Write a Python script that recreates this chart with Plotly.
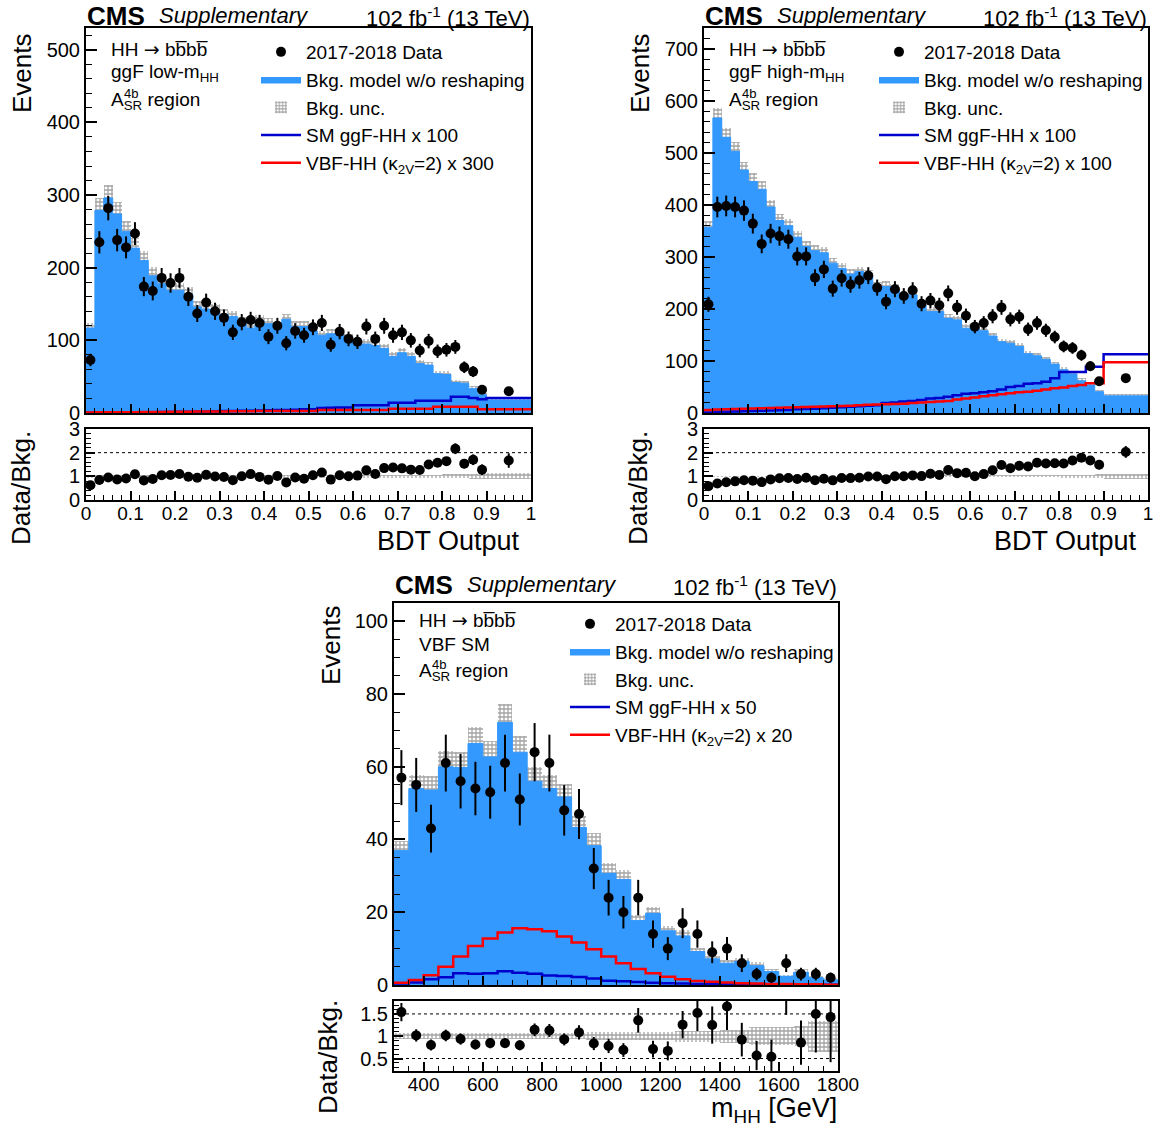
import math
import plotly.graph_objects as go

W, H = 1158, 1131
FONT = "Liberation Sans, Arial, Helvetica, sans-serif"

# ------------------------------------------------------------------ data
BDT_EDGES = [round(0.02 * i, 2) for i in range(46)] + [1.0]
MHH_EDGES = [300 + 50 * i for i in range(31)]

# ggF low-mHH (top left)
LOW_DATA = [73, 235, 282, 238, 228, 247, 174, 168, 186, 179,
            186, 160, 137, 152, 140, 131, 111, 125, 128, 124,
            105, 120, 96, 113, 107, 118, 124, 94, 112, 102,
            98, 119, 102, 120, 107, 111, 100, 86, 99, 85,
            87, 91, 63, 57, 32, 30]
LOW_BKG = [117, 279, 296, 274, 250, 227, 210, 189, 178, 169,
           169, 163, 146, 143, 141, 135, 133, 125, 117, 127,
           123, 118, 129, 119, 119, 113, 107, 109, 107, 102,
           95, 95, 93, 89, 78, 83, 78, 68, 66, 54,
           53, 42, 41, 33.5, 25, 18]
LOW_UNC = [0.06] * 30 + [0.07] * 10 + [0.09, 0.09, 0.09, 0.10, 0.11, 0.13]
LOW_GGF = [0.5, 0.6, 0.7, 0.8, 0.9, 1.0, 1.1, 1.2, 1.3, 1.5,
           1.6, 1.8, 2.0, 2.2, 2.4, 2.6, 2.8, 3.0, 3.2, 3.5,
           3.8, 4.0, 4.3, 4.6, 5.0, 5.2, 7.0, 7.3, 7.5, 7.5,
           10.6, 10.6, 10.6, 10.6, 14, 14, 14, 17, 17, 17,
           17, 22.5, 22.5, 20.6, 18.9, 20.6]
LOW_VBF = [0.8, 0.9, 1.0, 1.0, 1.1, 1.2, 1.3, 1.4, 1.5, 1.6,
           1.7, 1.8, 1.9, 2.0, 2.1, 2.2, 2.3, 2.4, 2.5, 2.6,
           2.7, 2.8, 2.8, 2.9, 2.8, 2.8, 4, 4, 4, 4,
           4, 4, 4, 4, 6, 6, 6, 6, 6, 8.7,
           8.7, 8.7, 8.7, 8.7, 5, 5]

# ggF high-mHH (top right)
HIGH_DATA = [209, 396, 398, 396, 389, 364, 325, 345, 340, 334,
             301, 301, 260, 276, 239, 259, 247, 255, 264, 241,
             214, 238, 225, 236, 210, 216, 207, 230, 203, 187,
             166, 173, 186, 203, 180, 185, 161, 173, 159, 146,
             128, 125, 111, 90, 61, 67]
HIGH_BKG = [357, 567, 530, 503, 467, 445, 430, 396, 370, 360,
            338, 320, 312, 308, 288, 278, 267, 272, 265, 243,
            243, 238, 224, 227, 208, 195, 195, 182, 179, 163,
            165, 158, 148, 137, 134, 128, 114, 110, 103, 94,
            83, 75, 62, 54, 41, 33]
HIGH_UNC = [0.035] * 20 + [0.045] * 20 + [0.06, 0.06, 0.07, 0.07, 0.08, 0.10]
HIGH_GGF = [1, 2, 2.5, 3, 3.5, 4, 4.5, 5, 5.5, 6,
            7, 7.5, 8, 9, 10, 11, 12, 13, 14, 15,
            19, 20, 22, 23, 25, 28, 29, 31, 34, 37,
            38, 40, 42, 45, 50, 52, 56, 57, 60, 67,
            79, 79, 79, 89, 89, 113]
HIGH_VBF = [6, 6.5, 7, 7.5, 8, 8.5, 9, 9.5, 10, 10.5,
            11, 11.5, 12, 12.5, 13, 13.5, 14, 15, 16, 16.5,
            17, 17.5, 18, 19, 20, 21, 22, 23, 26, 28,
            30, 32, 34, 36, 38, 40, 41, 43, 45, 47.5,
            49, 52, 54, 57, 57, 97.5]

# VBF SM (bottom)
VBF_DATA = [57, 55, 43, 61, 56, 54, 53, 61, 51, 64,
            61, 48, 47, 32, 24, 20, 24, 14, 10, 17,
            14, 9, 10, 6, 3, 2, 6, 3, 3, 2]
VBF_BKG = [37, 54, 53.6, 60, 59.8, 66.4, 62.7, 72.2, 64, 56,
           54, 51.7, 43.3, 38.3, 30.7, 29, 17.7, 19.7, 14.9, 13.5,
           9.2, 7.2, 6, 6.5, 5.3, 3.7, 2.4, 3.5, 2, 1.4]
VBF_UNC = [0.07] * 13 + [0.09] * 6 + [0.12] * 3 + [0.15, 0.15, 0.2, 0.2, 0.2, 0.22, 0.35, 0.35]
VBF_GGF = [0.4, 0.7, 1.6, 2.1, 3.2, 3.1, 3.2, 3.8, 3.4, 3.1,
           2.6, 2.5, 2.2, 1.8, 1.2, 1.0, 0.8, 0.6, 0.5, 0.4,
           0.3, 0.3, 0.2, 0.2, 0.1, 0.1, 0.1, 0.1, 0.1, 0.1]
VBF_VBF = [0.6, 1.4, 2.7, 5.0, 7.8, 10.7, 12.8, 14.4, 15.6, 15.3,
           14.8, 13.3, 11.7, 9.8, 7.8, 6.0, 4.4, 3.2, 2.3, 1.6,
           1.1, 0.9, 0.7, 0.5, 0.4, 0.3, 0.3, 0.2, 0.2, 0.1]

# ------------------------------------------------------------------ helpers
BLUE_FILL = "#3399ff"
SIG_BLUE = "#0000cc"
SIG_RED = "#ff0000"
HATCH = dict(shape="+", fgcolor="#4a4a4a", bgcolor="rgba(0,0,0,0)",
             size=4, solidity=0.55, fillmode="overlay")


def px(x):
    return x / W


def py(y):
    return 1 - y / H


def centers(e):
    return [(a + b) / 2 for a, b in zip(e[:-1], e[1:])]


def widths(e):
    return [b - a for a, b in zip(e[:-1], e[1:])]


def step(v):
    return list(v) + [v[-1]]


fig = go.Figure()


def add_panel(edges, data, bkg, unc, ggf, vbf, n, legend, ggf_label, vbf_label):
    xm, ym = f"x{n}", f"y{n}"
    xr, yr = f"x{n+1}", f"y{n+1}"
    c = centers(edges)
    w = widths(edges)
    fig.add_trace(go.Scatter(
        x=edges, y=step(bkg), mode="lines", line_shape="hv",
        line=dict(color=BLUE_FILL, width=1), fill="tozeroy", fillcolor=BLUE_FILL,
        name="Bkg. model w/o reshaping", legend=legend, legendrank=2,
        xaxis=xm, yaxis=ym))
    fig.add_trace(go.Bar(
        x=c, y=[2 * b * r for b, r in zip(bkg, unc)],
        base=[b * (1 - r) for b, r in zip(bkg, unc)], width=w,
        marker=dict(color="rgba(0,0,0,0)", line=dict(width=0), pattern=HATCH),
        name="Bkg. unc.", legend=legend, legendrank=3, xaxis=xm, yaxis=ym))
    fig.add_trace(go.Scatter(
        x=edges, y=step(ggf), mode="lines", line_shape="hv",
        line=dict(color=SIG_BLUE, width=2.5), name=ggf_label,
        legend=legend, legendrank=4, xaxis=xm, yaxis=ym))
    fig.add_trace(go.Scatter(
        x=edges, y=step(vbf), mode="lines", line_shape="hv",
        line=dict(color=SIG_RED, width=2.5), name=vbf_label,
        legend=legend, legendrank=5, xaxis=xm, yaxis=ym))
    fig.add_trace(go.Scatter(
        x=c, y=data, mode="markers",
        marker=dict(color="black", size=10),
        error_y=dict(type="data", array=[math.sqrt(d) for d in data],
                     color="black", thickness=2, width=0),
        name="2017-2018 Data", legend=legend, legendrank=1, xaxis=xm, yaxis=ym))
    # ratio
    fig.add_trace(go.Bar(
        x=c, y=[2 * r for r in unc], base=[1 - r for r in unc], width=w,
        marker=dict(color="rgba(0,0,0,0)", line=dict(width=0), pattern=HATCH),
        showlegend=False, xaxis=xr, yaxis=yr))
    fig.add_trace(go.Scatter(
        x=c, y=[d / b for d, b in zip(data, bkg)], mode="markers",
        marker=dict(color="black", size=10),
        error_y=dict(type="data", array=[math.sqrt(d) / b for d, b in zip(data, bkg)],
                     color="black", thickness=2, width=0),
        showlegend=False, xaxis=xr, yaxis=yr))


add_panel(BDT_EDGES, LOW_DATA, LOW_BKG, LOW_UNC, LOW_GGF, LOW_VBF, 1, "legend",
          "SM ggF-HH x 100", "VBF-HH (κ<sub>2V</sub>=2) x 300")
add_panel(BDT_EDGES, HIGH_DATA, HIGH_BKG, HIGH_UNC, HIGH_GGF, HIGH_VBF, 3, "legend2",
          "SM ggF-HH x 100", "VBF-HH (κ<sub>2V</sub>=2) x 100")
add_panel(MHH_EDGES, VBF_DATA, VBF_BKG, VBF_UNC, VBF_GGF, VBF_VBF, 5, "legend3",
          "SM ggF-HH x 50", "VBF-HH (κ<sub>2V</sub>=2) x 20")

# ------------------------------------------------------------------ axes
TICKFONT = dict(family=FONT, size=20, color="black")


def xaxis(dom, rng, dtick, minor, anchor, labels, tick0=0):
    return dict(domain=[px(dom[0]), px(dom[1])], range=rng, anchor=anchor,
                automargin=False,
                showline=True, mirror=True, linecolor="black", linewidth=2,
                ticks="inside", ticklen=9, tickwidth=1.5, tickcolor="black",
                tick0=tick0, dtick=dtick, showgrid=False, zeroline=False,
                showticklabels=labels, ticklabelstandoff=-5,
                tickfont=dict(family=FONT, size=19, color="black"),
                minor=dict(ticks="inside", ticklen=5, tickwidth=1, tickcolor="black",
                           dtick=minor, showgrid=False))


def yaxis(dom, rng, dtick, minor, anchor, ticklen=11, tick0=0):
    return dict(domain=[py(dom[1]), py(dom[0])], range=rng, anchor=anchor,
                automargin=False,
                showline=True, mirror=True, linecolor="black", linewidth=2,
                ticks="inside", ticklen=ticklen, tickwidth=1.5, tickcolor="black",
                tick0=tick0, dtick=dtick, showgrid=False, zeroline=False,
                tickfont=TICKFONT,
                minor=dict(ticks="inside", ticklen=ticklen // 2 + 1, tickwidth=1,
                           tickcolor="black", dtick=minor, showgrid=False))


L_X = (86, 531)
R_X = (704, 1148)
B_X = (394, 838)
TOP_MAIN = (28, 413)
TOP_RAT = (429, 500)
BOT_MAIN = (603, 985)
BOT_RAT = (1001, 1071)

layout_axes = dict(
    xaxis=xaxis(L_X, [0, 1], 0.1, 0.02, "y", False),
    yaxis=yaxis(TOP_MAIN, [0, 530], 100, 20, "x"),
    xaxis2=xaxis(L_X, [0, 1], 0.1, 0.02, "y2", True),
    yaxis2=yaxis(TOP_RAT, [0, 3], 1, 0.2, "x2", ticklen=9),
    xaxis3=xaxis(R_X, [0, 1], 0.1, 0.02, "y3", False),
    yaxis3=yaxis(TOP_MAIN, [0, 740], 100, 20, "x3"),
    xaxis4=xaxis(R_X, [0, 1], 0.1, 0.02, "y4", True),
    yaxis4=yaxis(TOP_RAT, [0, 3], 1, 0.2, "x4", ticklen=9),
    xaxis5=xaxis(B_X, [300, 1800], 200, 50, "y5", False),
    yaxis5=yaxis(BOT_MAIN, [0, 105], 20, 5, "x5"),
    xaxis6=xaxis(B_X, [300, 1800], 200, 50, "y6", True),
    yaxis6=yaxis(BOT_RAT, [0.22, 1.79], 0.5, 0.1, "x6", ticklen=9),
)


# ------------------------------------------------------------------ legends
def legend(x, y):
    return dict(x=px(x), y=py(y), xanchor="left", yanchor="top",
                bgcolor="rgba(0,0,0,0)", borderwidth=0, traceorder="normal",
                font=dict(family=FONT, size=19, color="black"), itemwidth=40,
                itemclick=False)


# ------------------------------------------------------------------ annotations
ann = []


def text(x, y, s, size=19, xanchor="left", yanchor="middle", angle=0):
    ann.append(dict(x=px(x), y=py(y), xref="paper", yref="paper", text=s,
                    showarrow=False, xanchor=xanchor, yanchor=yanchor, textangle=angle,
                    borderpad=0, font=dict(family=FONT, size=size, color="black")))


BB = "HH <span style='font-family:DejaVu Sans'>→</span> bb\u0305bb\u0305"
for (x0, x1), ytop, cat in [(L_X, 0, "ggF low-m<sub>HH</sub>"),
                            (R_X, 0, "ggF high-m<sub>HH</sub>"),
                            (B_X, 569, "VBF SM")]:
    text(x0, ytop, "<b>CMS</b>", size=26, yanchor="top")
    text(x0 + 72, ytop + 2, "<i>Supplementary</i>", size=22, yanchor="top")
    text(x1, ytop + 2, "102 fb<sup>-1</sup> (13 TeV)", size=22, xanchor="right", yanchor="top")
    top = (ytop if ytop else 13) + 36 if ytop == 0 else ytop + 51
    text(x0 + 24, top, BB)
    text(x0 + 24, top + 24, cat)
    text(x0 + 24, top + 52, "A<sub>SR</sub> region")
    text(x0 + 37, top + 44, "4b", size=13)

text(22, 73, "Events", size=26, xanchor="center", angle=-90)
text(640, 73, "Events", size=26, xanchor="center", angle=-90)
text(331, 645, "Events", size=26, xanchor="center", angle=-90)
text(21, 488, "Data/Bkg.", size=26, xanchor="center", angle=-90)
text(638, 488, "Data/Bkg.", size=26, xanchor="center", angle=-90)
text(328, 1057, "Data/Bkg.", size=26, xanchor="center", angle=-90)
text(521, 541, "BDT Output", size=27, xanchor="right")
text(1138, 541, "BDT Output", size=27, xanchor="right")
text(838, 1110, "m<sub>HH</sub> [GeV]", size=27, xanchor="right")

# ------------------------------------------------------------------ reference lines
shapes = []
for xr, yr, vals in [("x2", "y2", [2]), ("x4", "y4", [2]), ("x6", "y6", [1.5, 0.5])]:
    for v in vals:
        shapes.append(dict(type="line", xref=f"{xr} domain", yref=yr, x0=0, x1=1, y0=v, y1=v,
                           line=dict(color="black", width=1, dash="dot"), layer="below"))

fig.update_layout(
    width=W, height=H, margin=dict(l=0, r=0, t=0, b=0, autoexpand=False),
    paper_bgcolor="white", plot_bgcolor="white",
    barmode="overlay", bargap=0,
    font=dict(family=FONT, color="black"),
    legend=legend(256, 33), legend2=legend(874, 33), legend3=legend(565, 605),
    annotations=ann, shapes=shapes,
    **layout_axes,
)

fig.write_html(
    "out.html",
    config={"displayModeBar": False},
    post_script="document.body.style.margin='0px';document.body.style.overflow='hidden';",
)
